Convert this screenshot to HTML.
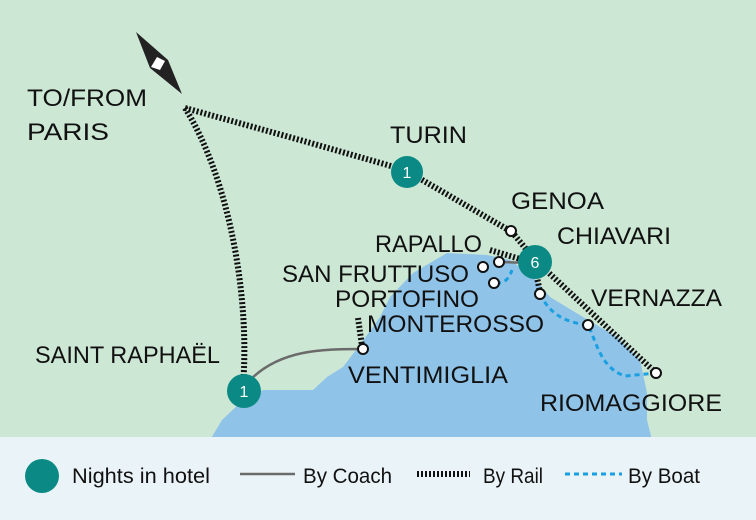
<!DOCTYPE html>
<html><head><meta charset="utf-8"><style>
html,body{margin:0;padding:0;background:#cde7d5;}
svg{display:block;}
text{font-family:"Liberation Sans",sans-serif;fill:#111;}
</style></head><body>
<svg width="756" height="520" viewBox="0 0 756 520" xmlns="http://www.w3.org/2000/svg">
<rect width="756" height="520" fill="#cde7d5"/>
<path d="M210,440 L222,420 L240,403 L263,390 L313,390 L327,377 L343,367 L362,342 L380,317 L390,297 L413,273 L447,253 L487,255 L510,260 L533,277 L550,297 L583,317 L617,337 L640,360 L647,393 L647,420 L652,440 Z" fill="#90c3e8"/>
<rect x="0" y="437" width="756" height="83" fill="#eaf4f8"/>
<g fill="none" stroke="#111" stroke-width="6" stroke-dasharray="2 2">
<path d="M185,108 L300,140 L405,170 L512,232 L535,260 L656,373"/>
<path d="M185,108 C230,180 250,300 243,385"/>
<path d="M490,250 L530,262"/>
<path d="M535,268 L540,292"/>
<path d="M358,318 L362,346"/>
</g>
<g fill="none" stroke="#6b6b6b" stroke-width="2.5">
<path d="M250,380 C280,350 320,349 363,349"/>
<path d="M500,262 L530,263"/>
</g>
<g fill="none" stroke="#1aa0e0" stroke-width="3" stroke-dasharray="5 4">
<path d="M483,267 L492,266"/>
<path d="M496,283 C506,284 510,276 512,270"/>
<path d="M540,294 C548,310 560,322 588,325 C596,340 600,368 625,376 L656,373"/>
</g>
<polygon points="136,32 168,60 182,94 150,68" fill="#222"/>
<polygon points="157,57 165,61 160,70 151,67" fill="#fff"/>
<g fill="#fff" stroke="#111" stroke-width="2">
<circle cx="511" cy="231" r="5"/><circle cx="499" cy="262" r="5"/>
<circle cx="483" cy="267" r="5"/><circle cx="494" cy="283" r="5"/>
<circle cx="540" cy="294" r="5"/><circle cx="588" cy="325" r="5"/>
<circle cx="656" cy="373" r="5"/><circle cx="363" cy="349" r="5"/>
</g>
<g fill="#0b8a85">
<circle cx="407" cy="172" r="16"/><circle cx="535" cy="262" r="17"/><circle cx="244" cy="391" r="17"/>
</g>
<g font-size="16" text-anchor="middle">
<text x="407" y="178" style="fill:#fff">1</text>
<text x="535" y="268" style="fill:#fff">6</text>
<text x="244" y="397" style="fill:#fff">1</text>
</g>
<g font-size="24" lengthAdjust="spacingAndGlyphs">
<text x="27" y="106" textLength="120" lengthAdjust="spacingAndGlyphs">TO/FROM</text>
<text x="27" y="140" textLength="82" lengthAdjust="spacingAndGlyphs">PARIS</text>
<text x="390" y="143" textLength="77" lengthAdjust="spacingAndGlyphs">TURIN</text>
<text x="511" y="209" textLength="93" lengthAdjust="spacingAndGlyphs">GENOA</text>
<text x="557" y="244" textLength="114" lengthAdjust="spacingAndGlyphs">CHIAVARI</text>
<text x="375" y="252" textLength="107" lengthAdjust="spacingAndGlyphs">RAPALLO</text>
<text x="282" y="282" textLength="187" lengthAdjust="spacingAndGlyphs">SAN FRUTTUSO</text>
<text x="335" y="307" textLength="144" lengthAdjust="spacingAndGlyphs">PORTOFINO</text>
<text x="591" y="306" textLength="131" lengthAdjust="spacingAndGlyphs">VERNAZZA</text>
<text x="367" y="332" textLength="177" lengthAdjust="spacingAndGlyphs">MONTEROSSO</text>
<text x="35" y="363" textLength="185" lengthAdjust="spacingAndGlyphs">SAINT RAPHAËL</text>
<text x="348" y="383" textLength="160" lengthAdjust="spacingAndGlyphs">VENTIMIGLIA</text>
<text x="540" y="411" textLength="182" lengthAdjust="spacingAndGlyphs">RIOMAGGIORE</text>
</g>
<circle cx="42" cy="476" r="17" fill="#0b8a85"/>
<line x1="240" y1="474" x2="295" y2="474" stroke="#6b6b6b" stroke-width="2.5"/>
<line x1="417" y1="474" x2="470" y2="474" stroke="#111" stroke-width="6" stroke-dasharray="2 2"/>
<line x1="565" y1="474" x2="622" y2="474" stroke="#1aa0e0" stroke-width="3" stroke-dasharray="5 4"/>
<g font-size="21">
<text x="72" y="483" textLength="138" lengthAdjust="spacingAndGlyphs">Nights in hotel</text>
<text x="303" y="483" textLength="89" lengthAdjust="spacingAndGlyphs">By Coach</text>
<text x="483" y="483" textLength="60" lengthAdjust="spacingAndGlyphs">By Rail</text>
<text x="628" y="483" textLength="72" lengthAdjust="spacingAndGlyphs">By Boat</text>
</g>
</svg>
</body></html>
